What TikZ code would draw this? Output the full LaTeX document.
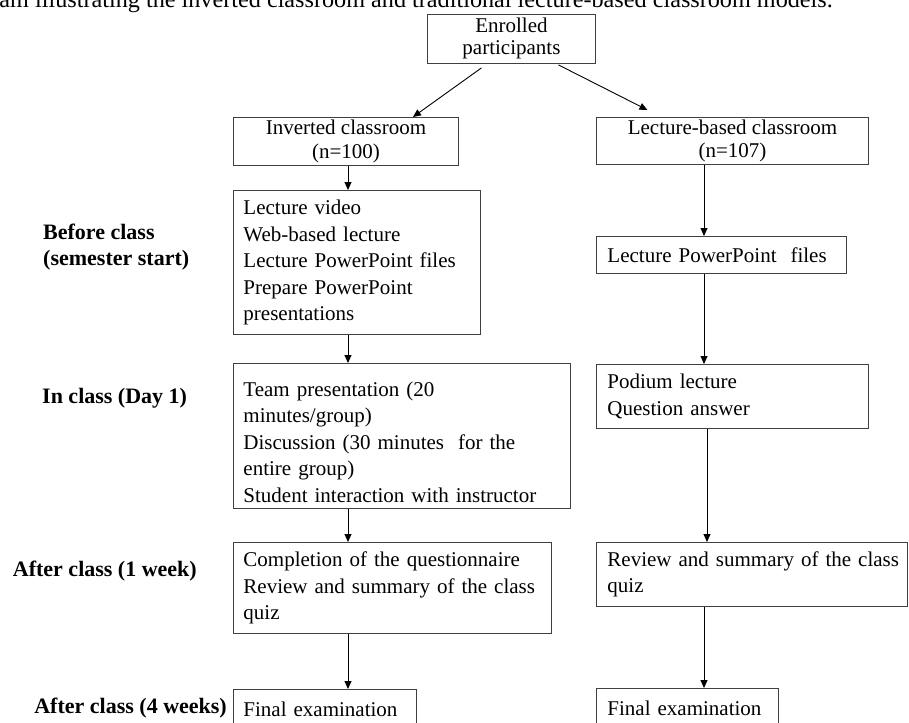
\documentclass[tikz,border=0pt]{standalone}
\usepackage{fontspec}
\setmainfont{Liberation Serif}
\usetikzlibrary{arrows.meta}
\tikzset{
  box/.style={draw=black!75, line width=0.9pt, anchor=north west, inner xsep=10pt, inner ysep=0pt, align=left},
  cbox/.style={box, align=center},
  phase/.style={font=\fontsize{22}{26}\selectfont\bfseries, inner sep=0pt, align=left},
  arr/.style={-{Triangle[length=8pt,width=7pt]}, line width=0.9pt},
}
\begin{document}
\begin{tikzpicture}[x=1pt, y=-1pt, font=\fontsize{21}{26.5}\selectfont]
  \useasboundingbox (0,0) rectangle (909,722);
  \node[anchor=base east, inner sep=0pt, font=\fontsize{24.2}{28}\selectfont] (cap) at (833,8) {am illustrating the inverted classroom and traditional lecture-based classroom models.};
  % boxes
  \node[cbox, minimum width=168, minimum height=49, font=\fontsize{21}{22}\selectfont] (enrol) at (427,14) {Enrolled\\participants};
  \node[cbox, minimum width=225, minimum height=48, font=\fontsize{21}{24}\selectfont] (inv) at (233,117) {Inverted classroom\\(n=100)};
  \node[cbox, minimum width=272, minimum height=47, font=\fontsize{21}{24}\selectfont] (lec) at (596,117) {Lecture-based classroom\\(n=107)};
  \node[box, text width=227, minimum height=144] (before) at (233,190) {Lecture video\\Web-based lecture\\Lecture PowerPoint files\\Prepare PowerPoint\\presentations};
  \node[box, text width=228, minimum height=37, inner xsep=11pt] (lpf) at (596,236) {Lecture PowerPoint~ files};
  \node[box, text width=317, minimum height=145] (inclass) at (233,363) {\rule{0pt}{27pt}Team presentation (20\\minutes/group)\\Discussion (30 minutes~ for the\\entire group)\\Student interaction with instructor};
  \node[box, text width=250, minimum height=64, inner xsep=11pt] (podium) at (596,364) {Podium lecture\\Question answer};
  \node[box, text width=298, minimum height=91] (after1) at (233,542) {Completion of the questionnaire\\Review and summary of the class\\quiz};
  \node[box, text width=289, minimum height=64, inner xsep=11pt] (review) at (596,542) {\mbox{Review and summary of the class}\\quiz};
  \node[box, text width=163, minimum height=40] (finalL) at (233,689) {Final examination};
  \node[box, text width=160, minimum height=40, inner xsep=11pt] (finalR) at (596,688) {Final examination};
  % phases
  \node[phase, anchor=west] (ph1) at (43,247) {Before class\\(semester start)};
  \node[phase, anchor=west] (ph2) at (42,398) {In class (Day 1)};
  \node[phase, anchor=east] (ph3) at (197,571) {After class (1 week)};
  \node[phase, anchor=east] (ph4) at (227,708) {After class (4 weeks)};
  % arrows
  \coordinate (colL) at (348,0);
  \coordinate (colR) at (704,0);
  \coordinate (colRb) at (707,0);
  \draw[arr] ([xshift=-30pt,yshift=-4pt]enrol.south) -- ([xshift=67pt]inv.north);
  \draw[arr] ([xshift=47pt,yshift=-1pt]enrol.south) -- ([xshift=-85pt,yshift=7pt]lec.north);
  \foreach \a/\b in {inv/before, before/inclass, inclass/after1, after1/finalL}
    \draw[arr] (\a.south -| colL) -- (\b.north -| colL);
  \foreach \a/\b in {lec/lpf, lpf/podium, review/finalR}
    \draw[arr] (\a.south -| colR) -- (\b.north -| colR);
  \draw[arr] (podium.south -| colRb) -- (review.north -| colRb);
\end{tikzpicture}
\end{document}
